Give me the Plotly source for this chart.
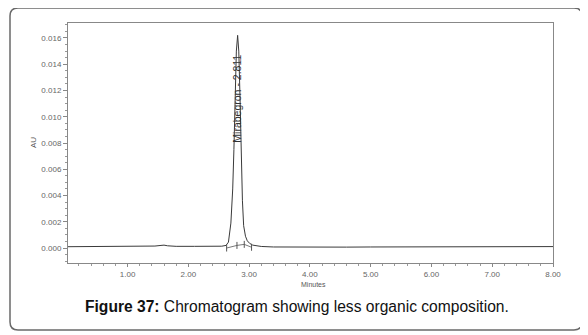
import plotly.graph_objects as go

# Chromatogram (minutes vs AU)
time_min = [0.00, 0.30, 0.70, 1.00, 1.30, 1.45, 1.55, 1.60, 1.66, 1.80, 2.10, 2.40, 2.55,
            2.62, 2.66, 2.70, 2.73, 2.75, 2.77, 2.79, 2.811, 2.83, 2.85, 2.87, 2.89,
            2.91, 2.94, 2.97, 3.01, 3.06, 3.12, 3.20, 3.40, 3.80, 4.20, 4.60, 5.00,
            5.50, 6.00, 6.50, 7.00, 7.20, 7.50, 8.00]
absorb_au = [0.00010, 0.00010, 0.00011, 0.00012, 0.00013, 0.00015, 0.00020, 0.00022, 0.00017,
             0.00013, 0.00013, 0.00013, 0.00014,
             0.00020, 0.00045, 0.00190, 0.00450, 0.00750, 0.01150, 0.01500, 0.01620, 0.01500,
             0.01150, 0.00720, 0.00360,
             0.00170, 0.00090, 0.00055, 0.00035, 0.00022, 0.00016, 0.00012, 0.00008, 0.00006,
             0.00006, 0.00007, 0.00008,
             0.00009, 0.00010, 0.00010, 0.00011, 0.00012, 0.00011, 0.00011]

# Integration baseline under the peak
base_time = [2.63, 2.80, 2.92, 3.04]
base_au = [0.00000, 0.00020, 0.00028, 0.00006]

peak_label = "Mirabegron - 2.811"
peak_time = 2.811
label_au = 0.01135

x_ticks = [1, 2, 3, 4, 5, 6, 7, 8]
x_tick_text = ["1.00", "2.00", "3.00", "4.00", "5.00", "6.00", "7.00", "8.00"]
y_ticks = [0.000, 0.002, 0.004, 0.006, 0.008, 0.010, 0.012, 0.014, 0.016]
y_tick_text = ["0.000", "0.002", "0.004", "0.006", "0.008", "0.010", "0.012", "0.014", "0.016"]

caption_bold = "Figure 37:"
caption_rest = " Chromatogram showing less organic composition."

fig = go.Figure()
fig.add_trace(go.Scatter(x=time_min, y=absorb_au, mode="lines",
                         line=dict(color="#3a3a3a", width=1), hoverinfo="skip",
                         showlegend=False))
fig.add_trace(go.Scatter(x=base_time, y=base_au, mode="lines+markers",
                         line=dict(color="#555555", width=0.8),
                         marker=dict(symbol="line-ns", size=5, line=dict(color="#555555", width=1)),
                         hoverinfo="skip", showlegend=False))

fig.add_annotation(x=peak_time, y=label_au, xref="x", yref="y", text=peak_label,
                   textangle=-90, showarrow=False, xshift=-1,
                   xanchor="center", yanchor="middle",
                   font=dict(family="Liberation Sans, Arial", size=10.5, color="#333333"))

# The page body adds an 8px offset; work in reference pixels minus 8
OFF = 8
W, H = 588 - OFF, 335 - OFF
L, R, T, B = 68 - OFF, 35, 23 - OFF, 72
pw, ph = W - L - R, H - T - B

def px(xp):
    return (xp - OFF - L) / pw

def py(yp):
    return (H - B - (yp - OFF)) / ph

x0, x1, y0, y1, r = 10, 582, 8, 330, 8
path = (f"M {px(x0 + r)},{py(y0)} L {px(x1 - r)},{py(y0)} Q {px(x1)},{py(y0)} {px(x1)},{py(y0 + r)} "
        f"L {px(x1)},{py(y1 - r)} Q {px(x1)},{py(y1)} {px(x1 - r)},{py(y1)} "
        f"L {px(x0 + r)},{py(y1)} Q {px(x0)},{py(y1)} {px(x0)},{py(y1 - r)} "
        f"L {px(x0)},{py(y0 + r)} Q {px(x0)},{py(y0)} {px(x0 + r)},{py(y0)} Z")
fig.add_shape(type="path", xref="paper", yref="paper", path=path,
              line=dict(color="#6a6a6a", width=1.5), layer="below")

fig.add_annotation(x=px(296.5), y=py(306), xref="paper", yref="paper", showarrow=False,
                   xanchor="center", yanchor="middle",
                   text=f"<b>{caption_bold}</b>{caption_rest}",
                   font=dict(family="Liberation Sans, Arial", size=15.6, color="#111111"))
fig.add_annotation(x=px(313), y=py(284), xref="paper", yref="paper", showarrow=False,
                   xanchor="center", yanchor="middle",
                   text="Minutes", font=dict(family="Liberation Sans, Arial", size=7, color="#555555"))
fig.add_annotation(x=px(33), y=py(143), xref="paper", yref="paper", showarrow=False,
                   xanchor="center", yanchor="middle",
                   text="AU", textangle=-90,
                   font=dict(family="Liberation Sans, Arial", size=8, color="#555555"))

fig.update_xaxes(range=[0.02, 8.0], tickvals=x_ticks, ticktext=x_tick_text,
                 ticks="outside", ticklen=3, tickcolor="#888888",
                 minor=dict(dtick=0.2, tick0=0, ticks="outside", ticklen=2, tickcolor="#999999"),
                 showline=True, linecolor="#888888", linewidth=1, mirror=True,
                 showgrid=False, zeroline=False,
                 tickfont=dict(family="Liberation Sans, Arial", size=8, color="#666666"))
fig.update_yaxes(range=[-0.00114, 0.01714], tickvals=y_ticks, ticktext=y_tick_text,
                 ticks="outside", ticklen=4, tickcolor="#888888",
                 minor=dict(dtick=0.0005, tick0=0, ticks="outside", ticklen=2, tickcolor="#999999"),
                 showline=True, linecolor="#888888", linewidth=1, mirror=True,
                 showgrid=False, zeroline=False,
                 tickfont=dict(family="Liberation Sans, Arial", size=8, color="#666666"))

fig.update_layout(width=W, height=H, margin=dict(l=L, r=R, t=T, b=B),
                  paper_bgcolor="white", plot_bgcolor="white", showlegend=False)

fig.write_html("out.html")
